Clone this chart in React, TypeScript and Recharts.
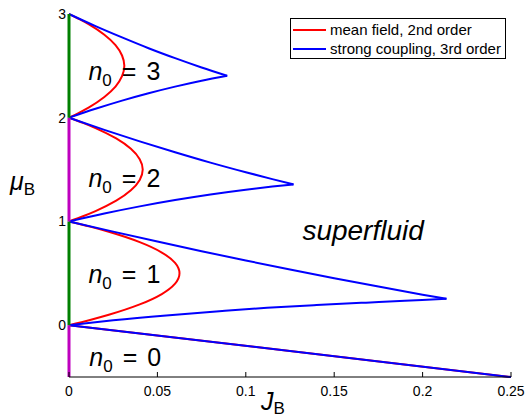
import React from "react"
import { ComposedChart, Line, XAxis, YAxis, Legend, ReferenceDot, Label } from "recharts"

const FONT = "'Liberation Sans', Arial, Helvetica, sans-serif"

// axis ticks
const jTicks = [0, 0.05, 0.1, 0.15, 0.2, 0.25]
const muTicks = [0, 1, 2, 3]

// mean field, 2nd order: lobe boundaries (J_B at each mu_B)
const mfLobe0 = [
  { J: 0, mu: 0 },
  { J: 0.25, mu: -0.5 },
]
const mfLobe1 = [
  { J: 0, mu: 0 }, { J: 0.0119, mu: 0.05 }, { J: 0.0225, mu: 0.1 }, { J: 0.04, mu: 0.2 },
  { J: 0.0525, mu: 0.3 }, { J: 0.06, mu: 0.4 }, { J: 0.0625, mu: 0.5 }, { J: 0.06, mu: 0.6 },
  { J: 0.0525, mu: 0.7 }, { J: 0.04, mu: 0.8 }, { J: 0.0225, mu: 0.9 }, { J: 0.0119, mu: 0.95 },
  { J: 0, mu: 1 },
]
const mfLobe2 = [
  { J: 0, mu: 1 }, { J: 0.0079, mu: 1.05 }, { J: 0.015, mu: 1.1 }, { J: 0.0267, mu: 1.2 },
  { J: 0.035, mu: 1.3 }, { J: 0.04, mu: 1.4 }, { J: 0.0417, mu: 1.5 }, { J: 0.04, mu: 1.6 },
  { J: 0.035, mu: 1.7 }, { J: 0.0267, mu: 1.8 }, { J: 0.015, mu: 1.9 }, { J: 0.0079, mu: 1.95 },
  { J: 0, mu: 2 },
]
const mfLobe3 = [
  { J: 0, mu: 2 }, { J: 0.0059, mu: 2.05 }, { J: 0.0113, mu: 2.1 }, { J: 0.02, mu: 2.2 },
  { J: 0.0263, mu: 2.3 }, { J: 0.03, mu: 2.4 }, { J: 0.0313, mu: 2.5 }, { J: 0.03, mu: 2.6 },
  { J: 0.0263, mu: 2.7 }, { J: 0.02, mu: 2.8 }, { J: 0.0113, mu: 2.9 }, { J: 0.0059, mu: 2.95 },
  { J: 0, mu: 3 },
]

// strong coupling, 3rd order: particle (upper) and hole (lower) boundaries
const scLobe0 = [
  { J: 0, mu: 0 },
  { J: 0.25, mu: -0.5 },
]
const scLobe1Upper = [
  { J: 0, mu: 1 }, { J: 0.025, mu: 0.9015 }, { J: 0.05, mu: 0.806 }, { J: 0.075, mu: 0.713 },
  { J: 0.1, mu: 0.623 }, { J: 0.125, mu: 0.537 }, { J: 0.15, mu: 0.453 }, { J: 0.175, mu: 0.372 },
  { J: 0.2, mu: 0.294 }, { J: 0.2135, mu: 0.254 },
]
const scLobe1Lower = [
  { J: 0, mu: 0 }, { J: 0.025, mu: 0.047 }, { J: 0.055, mu: 0.094 }, { J: 0.085, mu: 0.134 },
  { J: 0.112, mu: 0.167 }, { J: 0.14, mu: 0.1935 }, { J: 0.168, mu: 0.217 }, { J: 0.19, mu: 0.235 },
  { J: 0.2135, mu: 0.254 },
]
const scLobe2Upper = [
  { J: 0, mu: 2 }, { J: 0.02, mu: 1.883 }, { J: 0.04, mu: 1.772 }, { J: 0.06, mu: 1.667 },
  { J: 0.08, mu: 1.567 }, { J: 0.1, mu: 1.474 }, { J: 0.115, mu: 1.408 }, { J: 0.127, mu: 1.357 },
]
const scLobe2Lower = [
  { J: 0, mu: 1 }, { J: 0.02, mu: 1.076 }, { J: 0.04, mu: 1.145 }, { J: 0.06, mu: 1.206 },
  { J: 0.08, mu: 1.26 }, { J: 0.1, mu: 1.306 }, { J: 0.115, mu: 1.336 }, { J: 0.127, mu: 1.357 },
]
const scLobe3Upper = [
  { J: 0, mu: 3 }, { J: 0.015, mu: 2.883 }, { J: 0.03, mu: 2.774 }, { J: 0.045, mu: 2.67 },
  { J: 0.06, mu: 2.574 }, { J: 0.075, mu: 2.484 }, { J: 0.0895, mu: 2.404 },
]
const scLobe3Lower = [
  { J: 0, mu: 2 }, { J: 0.015, mu: 2.086 }, { J: 0.03, mu: 2.165 }, { J: 0.045, mu: 2.236 },
  { J: 0.06, mu: 2.3 }, { J: 0.075, mu: 2.357 }, { J: 0.0895, mu: 2.404 },
]

// J_B = 0 segments of the mu_B axis
const axisSegments = [
  { from: -0.5, to: 0, color: "#bf00bf" },
  { from: 0, to: 1, color: "#008000" },
  { from: 1, to: 2, color: "#bf00bf" },
  { from: 2, to: 3, color: "#008000" },
]

// Mott lobe labels n0 = 0..3 and the superfluid region
const lobeLabels = [
  { n: 0, J: 0.0115, mu: -0.395 },
  { n: 1, J: 0.011, mu: 0.405 },
  { n: 2, J: 0.011, mu: 1.33 },
  { n: 3, J: 0.011, mu: 2.36 },
]
const regionLabel = { text: "superfluid", J: 0.132, mu: 0.82 }

const legendItems = [
  { label: "mean field, 2nd order", color: "#ff0000" },
  { label: "strong coupling, 3rd order", color: "#0000ff" },
]

const XTick = ({ x, y, payload }: any) => (
  <g>
    <line x1={x} x2={x} y1={y} y2={y - 5} stroke="#000" strokeWidth={1} />
    <text x={x} y={y + 19} textAnchor="middle" fontSize={14} fontFamily={FONT} fill="#000">
      {payload.value}
    </text>
  </g>
)

const YTick = ({ x, y, payload }: any) => (
  <text x={x} y={y + 5} textAnchor="end" fontSize={14} fontFamily={FONT} fill="#000">
    {payload.value}
  </text>
)

const LobeText = (n: number) => ({ viewBox }: any) => (
  <text x={viewBox.x} y={viewBox.y} fontSize={25} fontFamily={FONT} fill="#000">
    <tspan fontStyle="italic">n</tspan>
    <tspan fontSize={17} dy={6}>0</tspan>
    <tspan dy={-6} dx={10}>=</tspan>
    <tspan dx={10}>{n}</tspan>
  </text>
)

const RegionText = ({ viewBox }: any) => (
  <text x={viewBox.x} y={viewBox.y} fontSize={28} fontStyle="italic" fontFamily={FONT} fill="#000">
    {regionLabel.text}
  </text>
)

const XLabel = ({ viewBox }: any) => (
  <text x={viewBox.x + 192} y={viewBox.y + 33} fontSize={25} fontFamily={FONT} fill="#000">
    <tspan fontStyle="italic">J</tspan>
    <tspan fontSize={17} dy={4}>B</tspan>
  </text>
)

const YLabel = ({ viewBox }: any) => (
  <text x={viewBox.x + 2} y={190} fontSize={25} fontFamily={FONT} fill="#000">
    <tspan fontStyle="italic">μ</tspan>
    <tspan fontSize={17} dy={5}>B</tspan>
  </text>
)

const LegendBox = () => (
  <div
    style={{
      width: 216,
      height: 41,
      border: "1px solid #000",
      background: "#fff",
      fontFamily: FONT,
      fontSize: 15,
      color: "#000",
      boxSizing: "border-box",
      paddingTop: 1,
    }}
  >
    {legendItems.map((item) => (
      <div key={item.label} style={{ display: "flex", alignItems: "center", height: 19 }}>
        <div style={{ width: 33, height: 2, background: item.color, marginLeft: 2, marginRight: 4 }} />
        <span style={{ whiteSpace: "nowrap" }}>{item.label}</span>
      </div>
    ))}
  </div>
)

export default function App() {
  return (
    <div style={{ position: "absolute", left: 0, top: 0, background: "#fff" }}>
      <ComposedChart width={529} height={418} margin={{ top: 14, right: 18, left: 8, bottom: 0 }}>
        <XAxis
          type="number"
          dataKey="J"
          domain={[0, 0.25]}
          ticks={jTicks}
          allowDuplicatedCategory={false}
          height={41}
          tickSize={0}
          tickMargin={0}
          tickLine={false}
          tick={<XTick />}
          axisLine={{ stroke: "#000", strokeWidth: 1 }}
        >
          <Label content={<XLabel />} />
        </XAxis>
        <YAxis
          type="number"
          dataKey="mu"
          domain={[-0.5, 3]}
          ticks={muTicks}
          width={61}
          tickSize={0}
          tickMargin={3}
          tickLine={false}
          axisLine={false}
          tick={<YTick />}
        >
          <Label content={<YLabel />} />
        </YAxis>
        <Legend
          layout="vertical"
          align="center"
          verticalAlign="middle"
          content={<LegendBox />}
          wrapperStyle={{ top: 18, left: 290, width: 216 }}
        />

        {lobeLabels.map((l) => (
          <ReferenceDot key={`n${l.n}`} x={l.J} y={l.mu} r={0} fill="none" stroke="none" label={{ content: LobeText(l.n) }} />
        ))}
        <ReferenceDot x={regionLabel.J} y={regionLabel.mu} r={0} fill="none" stroke="none" label={{ content: RegionText }} />

        {[mfLobe0, mfLobe1, mfLobe2, mfLobe3].map((d, i) => (
          <Line
            key={`mf${i}`}
            data={d}
            dataKey="mu"
            type={i === 0 ? "linear" : "monotoneY"}
            stroke="#ff0000"
            strokeWidth={2}
            dot={false}
            activeDot={false}
            isAnimationActive={false}
          />
        ))}
        {[scLobe0, scLobe1Upper, scLobe1Lower, scLobe2Upper, scLobe2Lower, scLobe3Upper, scLobe3Lower].map((d, i) => (
          <Line
            key={`sc${i}`}
            data={d}
            dataKey="mu"
            type="monotone"
            stroke="#0000ff"
            strokeWidth={2}
            dot={false}
            activeDot={false}
            isAnimationActive={false}
          />
        ))}
        {axisSegments.map((s, i) => (
          <Line
            key={`ax${i}`}
            data={[{ J: 0, mu: s.from }, { J: 0, mu: s.to }]}
            dataKey="mu"
            type="linear"
            stroke={s.color}
            strokeWidth={3}
            dot={false}
            activeDot={false}
            isAnimationActive={false}
          />
        ))}
      </ComposedChart>
    </div>
  )
}
